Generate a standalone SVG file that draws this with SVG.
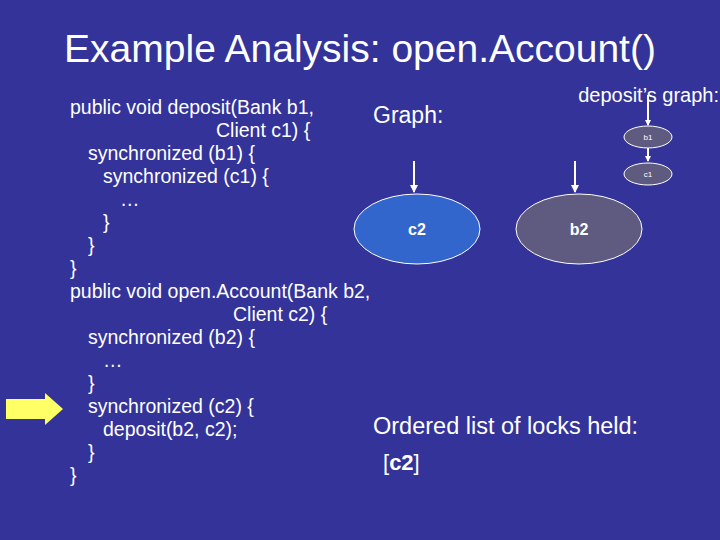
<svg xmlns="http://www.w3.org/2000/svg" width="720" height="540" viewBox="0 0 720 540">
<style>
text{font-family:"Liberation Sans",Arial,sans-serif;fill:#fff}
.code{font-size:19.5px}
.ar{stroke:#fff;stroke-width:2;marker-end:url(#ah)}
</style>
<defs><marker id="ah" markerWidth="8" markerHeight="8" refX="7" refY="4" orient="auto" markerUnits="userSpaceOnUse" viewBox="0 0 8 8"><path d="M0,0L8,4L0,8z" fill="#fff"/></marker>
<marker id="ahs" markerWidth="6" markerHeight="6" refX="5" refY="3" orient="auto" markerUnits="userSpaceOnUse" viewBox="0 0 6 6"><path d="M0,0L6,3L0,6z" fill="#fff"/></marker></defs>
<rect width="720" height="540" fill="#333399"/>
<text x="360" y="62" font-size="39" text-anchor="middle">Example Analysis: open.Account()</text>
<g id="code" class="code">
<text x="70" y="114" class="code">public void deposit(Bank b1,</text>
<text x="216" y="137" class="code">Client c1) {</text>
<text x="88" y="160" class="code">synchronized (b1) {</text>
<text x="103" y="183" class="code">synchronized (c1) {</text>
<text x="120" y="206" class="code">…</text>
<text x="103" y="229" class="code">}</text>
<text x="88" y="252" class="code">}</text>
<text x="70" y="275" class="code">}</text>
<text x="70" y="298" class="code">public void open.Account(Bank b2,</text>
<text x="233" y="321" class="code">Client c2) {</text>
<text x="88" y="344" class="code">synchronized (b2) {</text>
<text x="103" y="367" class="code">…</text>
<text x="88" y="390" class="code">}</text>
<text x="88" y="413" class="code">synchronized (c2) {</text>
<text x="103" y="436" class="code">deposit(b2, c2);</text>
<text x="88" y="459" class="code">}</text>
<text x="70" y="482" class="code">}</text>
</g>
<path id="pointer" d="M6,399H45V393L63,409L45,425V419H6Z" fill="#ffff66"/>
<text x="373" y="123" font-size="23">Graph:</text>
<text x="719" y="102" font-size="20" text-anchor="end">deposit’s graph:</text>
<g id="connectors">
<line class="ar" x1="414" y1="161" x2="414" y2="192"/>
<line class="ar" x1="575" y1="161" x2="575" y2="192"/>
<line x1="648" y1="95" x2="648" y2="125" stroke="#fff" stroke-width="2" marker-end="url(#ahs)"/>
<line x1="648" y1="148" x2="648" y2="161" stroke="#fff" stroke-width="2" marker-end="url(#ahs)"/>
</g>
<g id="c2"><ellipse cx="417" cy="229" rx="63" ry="35" fill="#3366cc" stroke="#fff"/><text x="417" y="235" font-size="16" font-weight="bold" text-anchor="middle">c2</text></g>
<g id="b2"><ellipse cx="579" cy="229" rx="63" ry="35" fill="#5f5a80" stroke="#fff"/><text x="579" y="235" font-size="16" font-weight="bold" text-anchor="middle">b2</text></g>
<g id="b1"><ellipse cx="648" cy="137" rx="24" ry="11" fill="#5f5a80" stroke="#fff"/><text x="648" y="140" font-size="8" text-anchor="middle">b1</text></g>
<g id="c1"><ellipse cx="648" cy="174" rx="24" ry="11" fill="#5f5a80" stroke="#fff"/><text x="648" y="177" font-size="8" text-anchor="middle">c1</text></g>
<text x="373" y="434" font-size="23.5">Ordered list of locks held:</text>
<text x="383" y="470" font-size="22">[<tspan font-weight="bold">c2</tspan>]</text>
</svg>
